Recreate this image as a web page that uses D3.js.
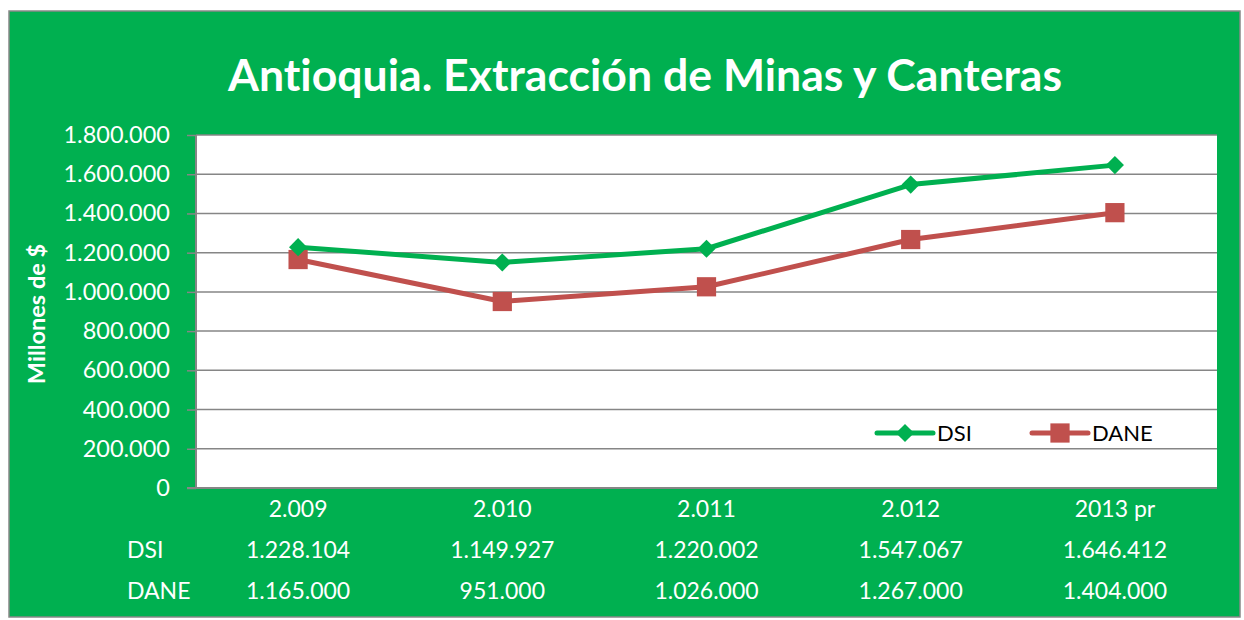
<!DOCTYPE html>
<html><head><meta charset="utf-8">
<script src="https://cdn.jsdelivr.net/npm/d3@7/dist/d3.min.js"></script>
<style>body{margin:0;background:#fff}svg{display:block}text{font-variant-ligatures:none;font-feature-settings:"liga" 0}</style>
</head><body>
<svg id="c" width="1244" height="620"></svg>
<script>
const categories = ["2.009","2.010","2.011","2.012","2013 pr"];
const dsi = [1228104, 1149927, 1220002, 1547067, 1646412];
const dane = [1165000, 951000, 1026000, 1267000, 1404000];
const yTicks = [0,200000,400000,600000,800000,1000000,1200000,1400000,1600000,1800000];
const seriesNames = ["DSI","DANE"];

const loc = d3.formatLocale({decimal:",", thousands:".", grouping:[3], currency:["$",""]});
const fmt = loc.format(",d");
const F = "Lato, 'Open Sans', sans-serif";
const svg = d3.select("#c");
const GREEN = "#00B050", RED = "#C0504D";

svg.append("rect").attr("x",9).attr("y",11).attr("width",1231).attr("height",606)
  .attr("fill",GREEN).attr("stroke","#888").attr("stroke-width",1.5);

const L=196,R=1217,T=135,B=488;
const x = d3.scaleBand().domain(categories).range([L,R]);
const y = d3.scaleLinear().domain([0,1800000]).range([B,T]);

svg.append("rect").attr("x",L).attr("y",T).attr("width",R-L).attr("height",B-T).attr("fill","#fff");

// gridlines
svg.append("g").selectAll("line").data(yTicks.filter(d=>d>0)).join("line")
  .attr("x1",L).attr("x2",R).attr("y1",d=>y(d)).attr("y2",d=>y(d))
  .attr("stroke","#868686").attr("stroke-width",1.5);

// y axis
const ya = svg.append("g").attr("transform",`translate(${L},0)`)
  .call(d3.axisLeft(y).tickValues(yTicks).tickFormat(fmt).tickSize(9).tickPadding(17));
ya.select(".domain").attr("stroke","#868686").attr("stroke-width",2).attr("d",`M0,${T}V${B}`);
ya.selectAll(".tick line").attr("stroke","#868686").attr("stroke-width",1.5);
ya.selectAll(".tick text").attr("fill","#fff").style("font-family",F).style("font-size","23.5px");

// x axis baseline
svg.append("line").attr("x1",L-9).attr("x2",R).attr("y1",B).attr("y2",B)
  .attr("stroke","#868686").attr("stroke-width",2);

// title
svg.append("text").attr("x",645).attr("y",91).attr("text-anchor","middle")
  .attr("fill","#fff").style("font-family",F).style("font-weight","bold").style("font-size","43px")
  .attr("textLength",834).attr("lengthAdjust","spacingAndGlyphs")
  .text("Antioquia. Extracción de Minas y Canteras");

// y title
svg.append("text").attr("transform","translate(45,314) rotate(-90)").attr("text-anchor","middle")
  .attr("fill","#fff").style("font-family",F).style("font-weight","bold").style("font-size","23.5px")
  .text("Millones de $");

// lines
const cx = d=>x(d)+x.bandwidth()/2;
const line = d3.line().x((d,i)=>cx(categories[i])).y(d=>y(d));
svg.append("path").datum(dane).attr("d",line).attr("fill","none").attr("stroke",RED).attr("stroke-width",5).attr("stroke-linejoin","round");
svg.append("path").datum(dsi).attr("d",line).attr("fill","none").attr("stroke",GREEN).attr("stroke-width",5).attr("stroke-linejoin","round");

const sq = d3.symbol().type(d3.symbolSquare).size(370);
const dm = d3.symbol().type(d3.symbolDiamond2).size(210);
svg.append("g").selectAll("path").data(dane).join("path")
  .attr("transform",(d,i)=>`translate(${cx(categories[i])},${y(d)})`).attr("d",sq).attr("fill",RED);
svg.append("g").selectAll("path").data(dsi).join("path")
  .attr("transform",(d,i)=>`translate(${cx(categories[i])},${y(d)})`).attr("d",dm).attr("fill",GREEN);

// legend
const lg = [{name:seriesNames[0],c:GREEN,s:dm,x0:877},{name:seriesNames[1],c:RED,s:sq,x0:1032}];
lg.forEach(o=>{
  svg.append("line").attr("x1",o.x0).attr("x2",o.x0+56).attr("y1",433).attr("y2",433)
    .attr("stroke",o.c).attr("stroke-width",5).attr("stroke-linecap","round");
  svg.append("path").attr("transform",`translate(${o.x0+28},433)`).attr("d",o.s).attr("fill",o.c);
  svg.append("text").attr("x",o.x0+60).attr("y",441).attr("fill","#000")
    .style("font-family",F).style("font-size","22px").text(o.name);
});

// data table
svg.append("g").selectAll("text").data(categories).join("text")
  .attr("x",d=>cx(d)).attr("y",517).attr("text-anchor","middle").attr("fill","#fff")
  .style("font-family",F).style("font-size","23px").text(d=>d);
[[seriesNames[0],dsi,558],[seriesNames[1],dane,599]].forEach(([n,vals,yy])=>{
  svg.append("text").attr("x",127).attr("y",yy).attr("fill","#fff")
    .style("font-family",F).style("font-size","23px").text(n);
  svg.append("g").selectAll("text").data(vals).join("text")
    .attr("x",(d,i)=>cx(categories[i])).attr("y",yy).attr("text-anchor","middle").attr("fill","#fff")
    .style("font-family",F).style("font-size","23px").text(d=>fmt(d));
});
</script>
</body></html>
